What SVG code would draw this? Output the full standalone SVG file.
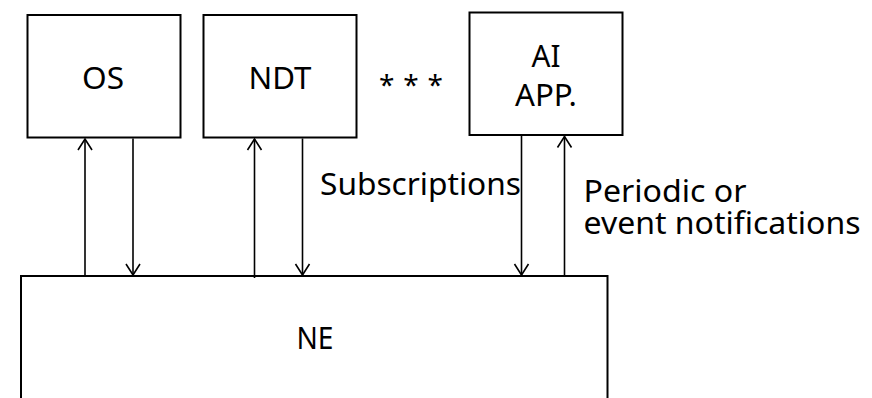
<svg xmlns="http://www.w3.org/2000/svg" width="872" height="398" viewBox="0 0 872 398">
<style>
.box{fill:#fff;stroke:#000;stroke-width:2}
.lbl{font-family:"Noto Sans","Open Sans",sans-serif;font-size:30px;fill:#000}
.c{text-anchor:middle}
.conn{stroke:#000;stroke-width:1.6;fill:none;marker-end:url(#arr)}
</style>
<defs>
<marker id="arr" viewBox="-13 -9 15 18" refX="0" refY="0" markerWidth="15" markerHeight="18" markerUnits="userSpaceOnUse" orient="auto">
<path d="M-11,-7 L0,0 L-11,7" fill="none" stroke="#000" stroke-width="1.6"/>
</marker>
</defs>
<rect width="872" height="398" fill="#fff"/>
<g id="node-os">
<rect class="box" x="27.5" y="15" width="153" height="122.5"/>
<text class="lbl c" x="103" y="88.5" textLength="42" lengthAdjust="spacingAndGlyphs">OS</text>
</g>
<g id="node-ndt">
<rect class="box" x="203.5" y="15" width="153" height="122.5"/>
<text class="lbl c" x="280" y="88.5" textLength="63" lengthAdjust="spacingAndGlyphs">NDT</text>
</g>
<g id="dots">
<text class="lbl" x="379" y="95" style="font-size:28px" textLength="64" lengthAdjust="spacing">* * *</text>
</g>
<g id="node-ai">
<rect class="box" x="469.5" y="12.5" width="153" height="122.5"/>
<text class="lbl c" x="546" y="66.5" textLength="29" lengthAdjust="spacingAndGlyphs">AI</text>
<text class="lbl c" x="546" y="105.5" textLength="62" lengthAdjust="spacingAndGlyphs">APP.</text>
</g>
<g id="node-ne">
<rect class="box" x="21" y="276" width="586.5" height="140"/>
<text class="lbl c" x="315" y="349" textLength="37" lengthAdjust="spacingAndGlyphs">NE</text>
</g>
<g id="connectors">
<line class="conn" x1="85" y1="276" x2="85" y2="139"/>
<line class="conn" x1="133" y1="138.5" x2="133" y2="275"/>
<line class="conn" x1="254.5" y1="278" x2="254.5" y2="139"/>
<line class="conn" x1="302.5" y1="138.5" x2="302.5" y2="275"/>
<line class="conn" x1="521.5" y1="136" x2="521.5" y2="275"/>
<line class="conn" x1="564.5" y1="276" x2="564.5" y2="136.5"/>
</g>
<g id="labels">
<text class="lbl" x="320" y="195" textLength="201" lengthAdjust="spacingAndGlyphs">Subscriptions</text>
<text class="lbl"><tspan x="583.5" y="201.5" textLength="163" lengthAdjust="spacingAndGlyphs">Periodic or</tspan><tspan x="583.5" y="234" textLength="277" lengthAdjust="spacingAndGlyphs">event notifications</tspan></text>
</g>
</svg>
